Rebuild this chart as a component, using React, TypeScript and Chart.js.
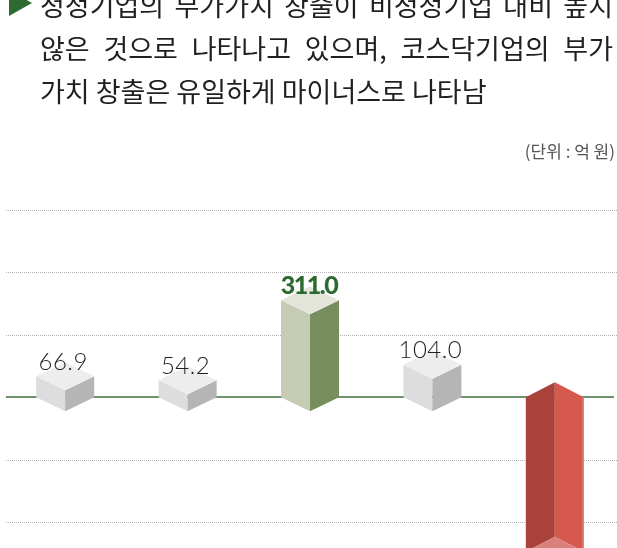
import React, { useEffect, useRef } from 'react';
import { Chart, registerables } from 'chart.js';

Chart.register(...registerables);

// ---------- data ----------
const categories = ['구분 1', '구분 2', '구분 3', '구분 4', '구분 5'];
const values = [66.9, 54.2, 311.0, 104.0, -495.0];
const valueLabels = ['66.9', '54.2', '311.0', '104.0', '-495.0'];
const highlightIndex = 2;
const yMin = -600;
const yMax = 600;
const yStep = 200;

const titleLines = [
  '청정기업의 부가가치 창출이 비청정기업 대비 높지',
  '않은 것으로 나타나고 있으며, 코스닥기업의 부가',
  '가치 창출은 유일하게 마이너스로 나타남',
];
const unitLabel = '(단위 : 억 원)';

// ---------- styles ----------
const GREY = { top: '#ededed', left: '#dcdddc', right: '#b5b5b5' };
const GREEN = { top: '#e3e5db', left: '#c6cbb4', right: '#768e5d' };
const RED = { bottom: '#d9807a', left: '#a9423a', right: '#d6594d', edge: '#e4837a' };

function poly(ctx: CanvasRenderingContext2D, pts: number[][], color: string) {
  ctx.beginPath();
  ctx.moveTo(pts[0][0], pts[0][1]);
  for (let i = 1; i < pts.length; i++) ctx.lineTo(pts[i][0], pts[i][1]);
  ctx.closePath();
  ctx.fillStyle = color;
  ctx.fill();
}

const bar3dPlugin = {
  id: 'bar3d',
  beforeDatasetsDraw(chart: any) {
    const { ctx, scales } = chart;
    const y = scales.y;
    ctx.save();
    y.ticks.forEach((t: any) => {
      const py = Math.round(y.getPixelForValue(t.value));
      ctx.beginPath();
      if (t.value === 0) {
        ctx.setLineDash([]);
        ctx.strokeStyle = '#3f6e3f';
        ctx.lineWidth = 1.5;
        ctx.moveTo(6, py);
        ctx.lineTo(614, py);
      } else {
        ctx.setLineDash([1, 1]);
        ctx.strokeStyle = '#b3b3b3';
        ctx.lineWidth = 1;
        ctx.moveTo(6, py + 0.5);
        ctx.lineTo(617, py + 0.5);
      }
      ctx.stroke();
    });
    ctx.restore();
  },
  afterDatasetsDraw(chart: any) {
    const { ctx } = chart;
    const meta = chart.getDatasetMeta(0);
    ctx.save();
    meta.data.forEach((el: any, i: number) => {
      const x = el.x;
      const hw = el.width / 2;
      const v = values[i];
      if (v >= 0) {
        const d = 14;
        const yTop = el.y;
        const yBase = el.base;
        const c = i === highlightIndex ? GREEN : GREY;
        poly(ctx, [[x - hw, yTop], [x, yTop + d], [x, yBase + d], [x - hw, yBase]], c.left);
        poly(ctx, [[x, yTop + d], [x + hw, yTop], [x + hw, yBase], [x, yBase + d]], c.right);
        poly(ctx, [[x - hw, yTop], [x, yTop - d], [x + hw, yTop], [x, yTop + d]], c.top);
        // label
        const bold = i === highlightIndex;
        ctx.textAlign = 'center';
        ctx.textBaseline = 'alphabetic';
        if (bold) {
          ctx.font = '900 25px Lato, "DejaVu Sans", sans-serif';
          (ctx as any).letterSpacing = '-1.5px';
          ctx.fillStyle = '#2d6a31';
          ctx.fillText(valueLabels[i], x - 1, yTop - 15 + 9);
        } else {
          ctx.font = '300 24px Lato, "Open Sans", sans-serif';
          (ctx as any).letterSpacing = '0.5px';
          ctx.fillStyle = '#231f20';
          ctx.fillText(valueLabels[i], x - 2, yTop - 15 + 8.5);
        }
      } else {
        const d = 15;
        const yTop = el.base;
        const yBot = el.y;
        const c = RED;
        poly(ctx, [[x - hw, yTop], [x, yTop - d], [x, yBot - d], [x - hw, yBot]], c.left);
        poly(ctx, [[x, yTop - d], [x + hw, yTop], [x + hw, yBot], [x, yBot - d]], c.right);
        poly(ctx, [[x + hw - 1.5, yTop], [x + hw, yTop], [x + hw, yBot], [x + hw - 1.5, yBot]], c.edge);
        poly(ctx, [[x - hw, yBot], [x, yBot - d], [x + hw, yBot], [x, yBot + d]], c.bottom);
        ctx.textAlign = 'center';
        ctx.font = '300 24px Lato, "Open Sans", sans-serif';
        (ctx as any).letterSpacing = '0.5px';
        ctx.fillStyle = '#231f20';
        ctx.fillText(valueLabels[i], x, yBot + d + 28);
      }
    });
    ctx.restore();
  },
};

export default function App() {
  const canvasRef = useRef<HTMLCanvasElement | null>(null);

  useEffect(() => {
    if (!canvasRef.current) return;
    const chart = new Chart(canvasRef.current, {
      type: 'bar',
      data: {
        labels: categories,
        datasets: [
          {
            data: values,
            backgroundColor: 'rgba(0,0,0,0)',
            borderWidth: 0,
            barThickness: 58,
          },
        ],
      },
      options: {
        animation: false,
        responsive: false,
        devicePixelRatio: 1,
        layout: { padding: { top: 210, bottom: 15.5, left: 4, right: 1 } },
        plugins: {
          legend: { display: false },
          tooltip: { enabled: false },
          title: { display: false },
        },
        scales: {
          x: { display: false },
          y: {
            display: false,
            min: yMin,
            max: yMax,
            ticks: { stepSize: yStep },
            grid: { display: false },
          },
        },
      },
      plugins: [bar3dPlugin],
    });
    return () => chart.destroy();
  }, []);

  const titleFont = '"Noto Sans CJK KR", "Noto Sans", sans-serif';

  return (
    <div
      style={{
        position: 'absolute',
        left: 0,
        top: 0,
        width: 617,
        height: 548,
        overflow: 'hidden',
        background: '#ffffff',
      }}
    >
      <canvas
        ref={canvasRef}
        width={617}
        height={600}
        style={{ position: 'absolute', left: 0, top: 0, width: 617, height: 600 }}
      />
      <div
        style={{
          position: 'absolute',
          left: 9,
          top: -10,
          width: 0,
          height: 0,
          borderTop: '13px solid transparent',
          borderBottom: '13px solid transparent',
          borderLeft: '23px solid #2e6b33',
        }}
      />
      <div
        style={{
          position: 'absolute',
          left: 40,
          top: -17.4,
          width: 573,
          fontFamily: titleFont,
          fontSize: 27,
          lineHeight: '43px',
          color: '#231f20',
        }}
      >
        {titleLines.map((line, i) => (
          <div
            key={i}
            style={{
              whiteSpace: 'nowrap',
              textAlign: i < titleLines.length - 1 ? 'justify' : 'left',
              textAlignLast: i < titleLines.length - 1 ? 'justify' : 'left',
            } as any}
          >
            {line}
          </div>
        ))}
      </div>
      <div
        style={{
          position: 'absolute',
          right: 2,
          top: 140,
          fontFamily: titleFont,
          fontSize: 17,
          lineHeight: '21px',
          color: '#555555',
          whiteSpace: 'nowrap',
        }}
      >
        {unitLabel}
      </div>
    </div>
  );
}
